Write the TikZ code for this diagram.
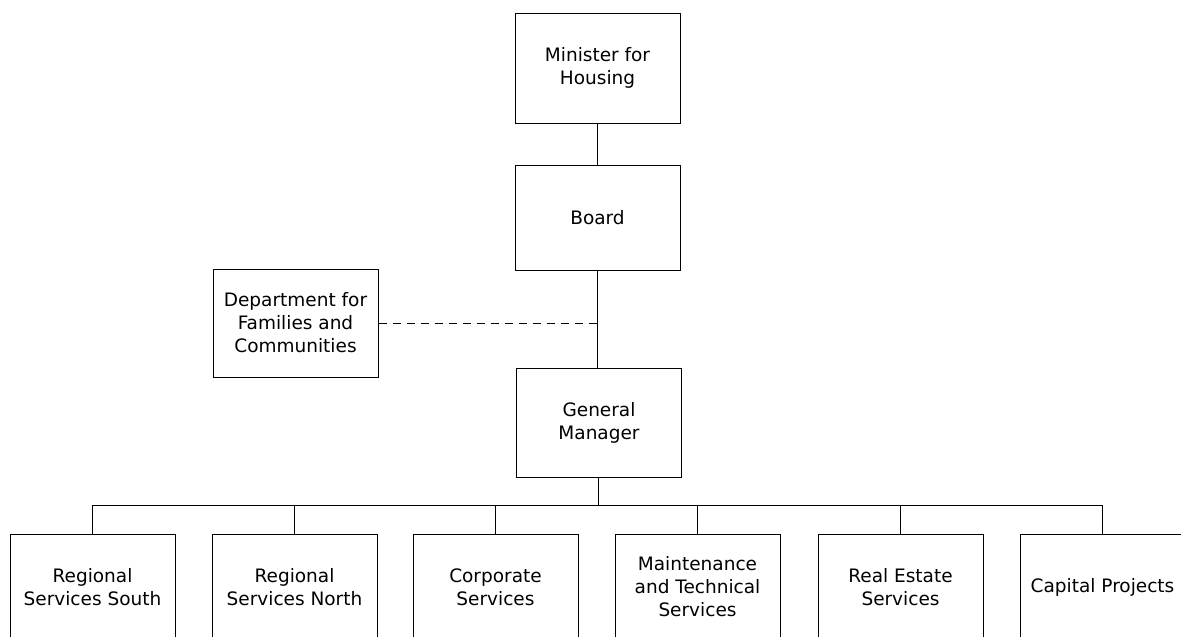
\documentclass[tikz,border=0pt]{standalone}
\usepackage{fontspec}
\setmainfont{DejaVu Sans}
\usetikzlibrary{positioning}
\begin{document}
\begin{tikzpicture}[x=1pt,y=-1pt,line cap=butt,
  unit/.style={draw,line width=1pt,minimum width=165pt,minimum height=106pt,
    align=center,inner sep=0pt,font=\fontsize{18.5}{23}\selectfont},
  link/.style={draw,line width=1pt}]
\useasboundingbox (0,0) rectangle (1181,637);
% upper chain
\node[unit,minimum height=110pt] (minister) at (597.5,68) {Minister for\\Housing};
\node[unit,minimum height=105pt] (board) at (597.5,217.5) {Board};
\node[unit,minimum height=108pt] (dept) at (295.5,323) {Department for\\Families and\\Communities};
\node[unit,minimum height=109pt] (gm) at (599,422.5) {General\\Manager};
\draw[link] (minister.south) -- (minister.south |- board.north);
\draw[link] (board.south) -- (board.south |- gm.north);
\draw[link,dash pattern=on 8pt off 6pt] (dept.east) -- (dept.east -| board.south);
% divisions
\coordinate (bus) at (598,505);
\draw[link] (gm.south -| bus) -- (bus);
\foreach \name/\x/\txt in {south/92.5/Regional\\Services South,
    north/294.5/Regional\\Services North,
    corp/495.5/Corporate\\Services,
    maint/697.5/Maintenance\\and Technical\\Services,
    estate/900.5/Real Estate\\Services,
    capital/1102.5/Capital Projects}{
  \node[unit] (\name) at (\x,587) {\txt};
  \draw[link] (bus) -| (\name.north);
}
\end{tikzpicture}
\end{document}
